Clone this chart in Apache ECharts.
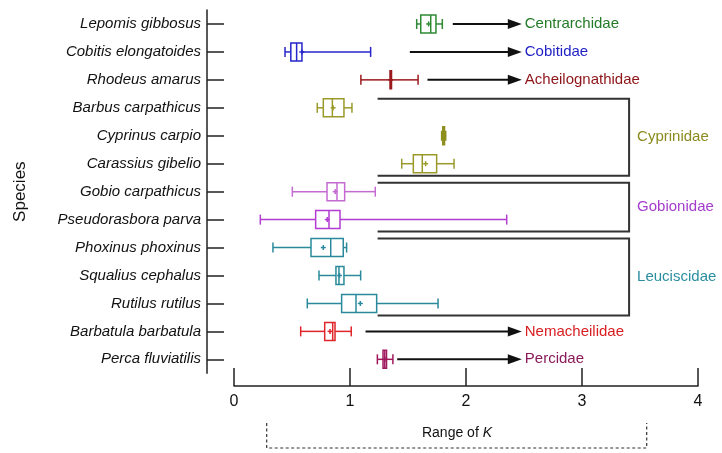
<!DOCTYPE html>
<html>
<head>
<meta charset="utf-8">
<script src="https://cdn.jsdelivr.net/npm/echarts@6/dist/echarts.min.js"></script>
<style>html,body{margin:0;padding:0;background:#fff}#c{width:722px;height:453px}</style>
</head>
<body>
<div id="c"></div>
<script>
// ---------- data ----------
const species = ['Lepomis gibbosus','Cobitis elongatoides','Rhodeus amarus','Barbus carpathicus','Cyprinus carpio','Carassius gibelio','Gobio carpathicus','Pseudorasbora parva','Phoxinus phoxinus','Squalius cephalus','Rutilus rutilus','Barbatula barbatula','Perca fluviatilis'];
const kMin    = [1.575, 0.44,  1.094, 0.718, 1.790, 1.446, 0.503, 0.227, 0.336, 0.733, 0.632, 0.575, 1.236];
const kQ1     = [1.610, 0.49,  1.345, 0.770, 1.800, 1.546, 0.802, 0.704, 0.664, 0.879, 0.928, 0.782, 1.285];
const kMedian = [1.696, 0.54,  1.352, 0.848, 1.808, 1.623, 0.888, 0.819, 0.834, 0.905, 1.052, 0.851, 1.300];
const kQ3     = [1.741, 0.586, 1.358, 0.948, 1.815, 1.747, 0.954, 0.914, 0.942, 0.948, 1.230, 0.871, 1.315];
const kMax    = [1.796, 1.178, 1.587, 1.017, 1.825, 1.897, 1.218, 2.351, 0.971, 1.092, 1.759, 1.011, 1.370];
const kMean   = [1.678, 0.585, 1.352, 0.855, 1.808, 1.652, 0.873, 0.804, 0.770, 0.910, 1.089, 0.828, 1.300];
const xTicks  = [0, 1, 2, 3, 4];

// families shown with an arrow (single-species families)
const arrowFamilies = ['Centrarchidae','Cobitidae','Acheilognathidae','Nemacheilidae','Percidae'];
const arrowSpecies  = ['Lepomis gibbosus','Cobitis elongatoides','Rhodeus amarus','Barbatula barbatula','Perca fluviatilis'];
const arrowFrom     = [1.886, 1.516, 1.668, 1.134, 1.407];
const arrowTo       = [2.481, 2.481, 2.481, 2.481, 2.481];

// families shown with a bracket
const bracketFamilies = ['Cyprinidae','Gobionidae','Leuciscidae'];
const bracketFirst    = ['Barbus carpathicus','Gobio carpathicus','Phoxinus phoxinus'];
const bracketLast     = ['Carassius gibelio','Pseudorasbora parva','Rutilus rutilus'];
const bracketFrom     = [1.238, 1.238, 1.238];
const bracketTo       = [3.406, 3.406, 3.406];

// ---------- styles ----------
const boxColors = ['#2f8a33','#2626cc','#9c1a1e','#9a9a2a','#8e8e1c','#9a9a2a','#c46ad2','#b23cd2','#2a8a9c','#2a8a9c','#2a8a9c','#e0262a','#a0185c'];
const arrowColors = ['#237a27','#1e1ec4','#8e1418','#d81e22','#8a1a5a'];
const bracketColors = ['#8a8a1e','#a43ccc','#2a8ea0'];
const FONT = 'Liberation Sans, Arial, sans-serif';

const boxData = species.map((s, i) => [i, kMin[i], kQ1[i], kMedian[i], kQ3[i], kMax[i], kMean[i]]);
const arrowData = arrowSpecies.map((s, i) => [species.indexOf(s), arrowFrom[i], arrowTo[i]]);
const bracketData = bracketFamilies.map((f, i) => [species.indexOf(bracketFirst[i]), species.indexOf(bracketLast[i]), bracketFrom[i], bracketTo[i]]);

function renderBox(params, api) {
  const i = api.value(0);
  const c = v => api.coord([v, i]);
  const mn = c(api.value(1)), q1 = c(api.value(2)), md = c(api.value(3)),
        q3 = c(api.value(4)), mx = c(api.value(5)), mean = c(api.value(6));
  const y = mn[1], h = 9, cap = 5, m = 2.5;
  const color = boxColors[params.dataIndex];
  const st = { stroke: color, lineWidth: 1.5, fill: null };
  const line = (x1, y1, x2, y2) => ({ type: 'line', shape: { x1, y1, x2, y2 }, style: st });
  return {
    type: 'group',
    children: [
      line(mn[0], y, q1[0], y),
      line(q3[0], y, mx[0], y),
      line(mn[0], y - cap, mn[0], y + cap),
      line(mx[0], y - cap, mx[0], y + cap),
      { type: 'rect', shape: { x: q1[0], y: y - h, width: Math.max(q3[0] - q1[0], 0.5), height: 2 * h }, style: { stroke: color, lineWidth: 1.5, fill: '#fff' } },
      line(md[0], y - h, md[0], y + h),
      line(mean[0] - m, y, mean[0] + m, y),
      line(mean[0], y - m, mean[0], y + m)
    ]
  };
}

function renderArrow(params, api) {
  const i = api.value(0);
  const a = api.coord([api.value(1), i]);
  const b = api.coord([api.value(2), i]);
  const y = a[1];
  return {
    type: 'group',
    children: [
      { type: 'line', shape: { x1: a[0], y1: y, x2: b[0] - 12, y2: y }, style: { stroke: '#111', lineWidth: 2 } },
      { type: 'polygon', shape: { points: [[b[0] - 14, y - 5], [b[0], y], [b[0] - 14, y + 5]] }, style: { fill: '#111' } },
      { type: 'text', x: b[0] + 3, y: y, style: { text: arrowFamilies[params.dataIndex], fill: arrowColors[params.dataIndex], font: '15px ' + FONT, align: 'left', verticalAlign: 'middle' } }
    ]
  };
}

function renderBracket(params, api) {
  const top = api.coord([api.value(2), api.value(0)]);
  const bot = api.coord([api.value(3), api.value(1)]);
  const x1 = top[0], x2 = bot[0], y1 = top[1] - 9, y2 = bot[1] + 12;
  return {
    type: 'group',
    children: [
      { type: 'polyline', shape: { points: [[x1, y1], [x2, y1], [x2, y2], [x1, y2]] }, style: { stroke: '#333', lineWidth: 2, fill: null } },
      { type: 'text', x: x2 + 8, y: (y1 + y2) / 2, style: { text: bracketFamilies[params.dataIndex], fill: bracketColors[params.dataIndex], font: '15px ' + FONT, align: 'left', verticalAlign: 'middle' } }
    ]
  };
}

const chart = echarts.init(document.getElementById('c'), null, { renderer: 'canvas' });
chart.setOption({
  animation: false,
  backgroundColor: '#fff',
  textStyle: { fontFamily: FONT },
  grid: [
    { left: 207, right: 24, top: 10, height: 363.3 },
    { left: 234, right: 24, top: 10, bottom: 67 }
  ],
  xAxis: [
    { type: 'value', gridIndex: 0, min: -27 / 116.1, max: 4, show: false },
    { type: 'value', gridIndex: 1, min: 0, max: 4, interval: 1,
      axisLine: { show: true, onZero: false, lineStyle: { color: '#222', width: 1.5 } },
      axisTick: { show: true, inside: true, length: 18, lineStyle: { color: '#222', width: 1.5 } },
      axisLabel: { margin: 8, fontSize: 16, color: '#111', fontFamily: FONT, showMaxLabel: true, showMinLabel: true,
        formatter: v => xTicks.includes(v) ? String(v) : '' },
      splitLine: { show: false } }
  ],
  yAxis: [
    { type: 'category', gridIndex: 0, data: species, inverse: true,
      name: 'Species', nameLocation: 'middle', nameGap: 178, nameRotate: 90,
      nameTextStyle: { fontSize: 17, color: '#111', fontFamily: FONT },
      axisLine: { show: true, onZero: false, lineStyle: { color: '#222', width: 1.5 } },
      axisTick: { show: true, inside: true, length: 17, alignWithLabel: true, lineStyle: { color: '#222', width: 1.5 } },
      axisLabel: { margin: 6, fontSize: 15, fontStyle: 'italic', color: '#111', fontFamily: FONT },
      splitLine: { show: false } },
    { type: 'value', gridIndex: 1, show: false }
  ],
  series: [
    { type: 'custom', xAxisIndex: 0, yAxisIndex: 0, renderItem: renderBracket, data: bracketData, clip: false, silent: true,
      encode: { x: [2, 3], y: [0, 1] } },
    { type: 'custom', xAxisIndex: 0, yAxisIndex: 0, renderItem: renderArrow, data: arrowData, clip: false, silent: true,
      encode: { x: [1, 2], y: 0 } },
    { type: 'custom', xAxisIndex: 0, yAxisIndex: 0, renderItem: renderBox, data: boxData, clip: false, silent: true,
      encode: { x: [1, 2, 3, 4, 5, 6], y: 0 } }
  ],
  graphic: [
    { type: 'polyline', shape: { points: [[266.7, 423], [266.7, 448], [646.7, 448], [646.7, 423]] },
      style: { stroke: '#333', lineWidth: 1.2, lineDash: [3, 2.5], fill: null } },
    { type: 'text', x: 457, y: 433,
      style: { text: '{a|Range of }{k|K}', align: 'center', verticalAlign: 'middle',
        rich: { a: { fontSize: 14, fontFamily: FONT, fill: '#111' }, k: { fontSize: 14, fontFamily: FONT, fontStyle: 'italic', fill: '#111' } } } }
  ]
});
</script>
</body>
</html>
